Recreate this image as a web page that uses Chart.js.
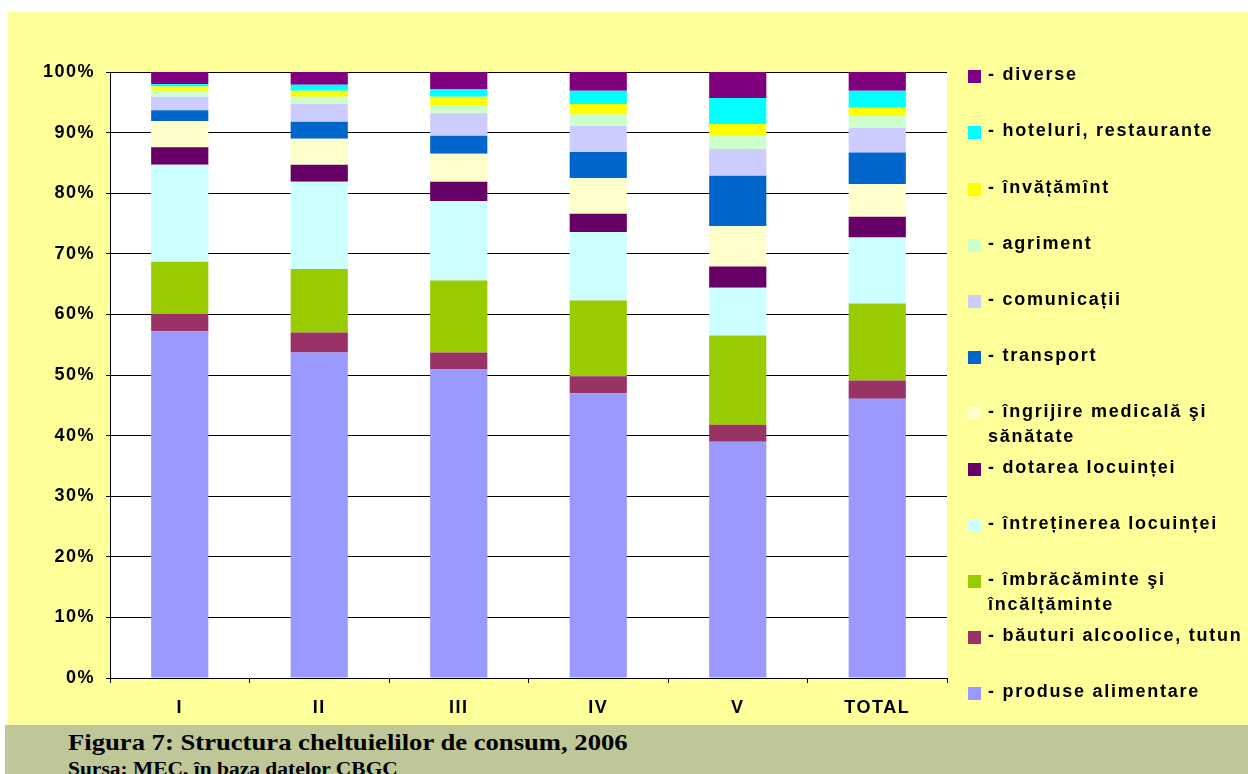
<!DOCTYPE html>
<html><head><meta charset="utf-8">
<script src="https://cdn.jsdelivr.net/npm/chart.js@4.4.1/dist/chart.umd.min.js"></script>
<style>
html,body{margin:0;padding:0;width:1248px;height:774px;overflow:hidden;background:#fff;}
#bg{position:absolute;left:8px;top:12px;width:1240px;height:713px;background:#FFFF99;}
#cap{position:absolute;left:5px;top:725px;width:1243px;height:49px;background:#BFC799;overflow:hidden;}
#cap .t1{position:absolute;left:63px;top:5px;font:bold 24px 'Liberation Serif';line-height:24px;white-space:nowrap;color:#000;transform:scaleX(1.11);transform-origin:0 0;}
#cap .t2{position:absolute;left:63px;top:35px;font:bold 18.5px 'Liberation Serif';line-height:18.5px;white-space:nowrap;color:#000;transform:scaleX(1.16);transform-origin:0 0;}
#c{position:absolute;left:0;top:0;}
.item{position:absolute;left:968px;font:bold 18px 'Liberation Sans';letter-spacing:1.75px;line-height:25px;color:#000;white-space:pre;}
.item .sw{position:absolute;left:0;top:8px;width:13px;height:13px;}
.item .tx{position:absolute;left:20px;top:0;}
</style>
</head><body>
<div id="bg"></div>
<canvas id="c" width="1248" height="774"></canvas>
<div id="legend"></div>
<div id="cap"><div class="t1">Figura 7: Structura cheltuielilor de consum, 2006</div><div class="t2">Sursa: MEC, în baza datelor CBGC</div></div>
<script>
const categories = ['I', 'II', 'III', 'IV', 'V', 'TOTAL'];
const produseAlimentare   = [57.2, 53.7, 50.9, 47.0, 39.0, 46.1];
const bauturiAlcoolice    = [2.9, 3.3, 2.8, 2.8, 2.8, 3.0];
const imbracaminte        = [8.6, 10.5, 11.9, 12.5, 14.7, 12.7];
const intretinerea        = [16.0, 14.4, 13.1, 11.3, 7.9, 10.9];
const dotarea             = [2.9, 2.8, 3.2, 3.0, 3.5, 3.4];
const ingrijire           = [4.3, 4.3, 4.6, 5.9, 6.7, 5.4];
const transport           = [1.8, 2.8, 3.0, 4.3, 8.3, 5.2];
const comunicatii         = [2.2, 2.9, 3.7, 4.3, 4.4, 4.1];
const agriment            = [1.0, 1.2, 1.2, 1.9, 2.2, 1.9];
const invatamint          = [0.7, 1.0, 1.5, 1.7, 1.9, 1.4];
const hoteluri            = [0.4, 1.0, 1.3, 2.2, 4.3, 2.8];
const diverse             = [2.0, 2.1, 2.8, 3.1, 4.3, 3.1];

const seriesValues = [produseAlimentare, bauturiAlcoolice, imbracaminte, intretinerea, dotarea, ingrijire, transport, comunicatii, agriment, invatamint, hoteluri, diverse];
const seriesNames = ['produse alimentare', 'băuturi alcoolice, tutun', 'îmbrăcăminte şi\nîncălțăminte', 'întreținerea locuinței', 'dotarea locuinței', 'îngrijire medicală şi\nsănătate', 'transport', 'comunicații', 'agriment', 'învățămînt', 'hoteluri, restaurante', 'diverse'];
const seriesColors = ['#9999FF', '#993366', '#99CC00', '#CCFFFF', '#660066', '#FFFFCC', '#0066CC', '#CCCCFF', '#CCFFCC', '#FFFF00', '#00FFFF', '#800080'];
const yTickStep = 10;

const datasets = seriesValues.map((vals, i) => ({
  label: seriesNames[i],
  data: vals,
  backgroundColor: seriesColors[i],
  borderWidth: 0,
  barPercentage: 0.41,
  categoryPercentage: 1.0
}));

const spacing = {
  id: 'spacing',
  beforeUpdate(chart) { chart.ctx.letterSpacing = '1.5px'; },
  beforeLayout(chart) { chart.ctx.letterSpacing = '1.5px'; },
  beforeDraw(chart) {
    const a = chart.chartArea, ctx = chart.ctx;
    ctx.letterSpacing = '1.5px';
    ctx.save();
    ctx.fillStyle = '#FFFFFF';
    ctx.fillRect(a.left, a.top, a.right - a.left, a.bottom - a.top);
    ctx.restore();
  }
};

const canvas = document.getElementById('c');
canvas.getContext('2d').letterSpacing = '1.5px';

const chart = new Chart(canvas, {
  type: 'bar',
  data: { labels: categories, datasets },
  plugins: [spacing],
  options: {
    responsive: false,
    animation: false,
    layout: { padding: { left: 0, top: 72, right: 301, bottom: 0 } },
    plugins: { legend: { display: false }, tooltip: { enabled: false }, title: { display: false } },
    scales: {
      x: {
        stacked: true,
        grid: { offset: true, drawOnChartArea: false, tickLength: 5, color: '#000' },
        border: { color: '#000', width: 1 },
        ticks: { font: { family: 'Liberation Sans', size: 18, weight: 'bold' }, color: '#000', padding: 14, maxRotation: 0 },
        afterFit(s) { s.height = 96; }
      },
      y: {
        stacked: true, min: 0, max: 100,
        ticks: { stepSize: yTickStep, callback: v => v + '%', font: { family: 'Liberation Sans', size: 18, weight: 'bold' }, color: '#000', padding: 11 },
        grid: { color: '#000', tickLength: 4 },
        border: { color: '#000', width: 1 },
        afterFit(s) { s.width = 110; }
      }
    }
  }
});

// HTML legend built from the chart's datasets (top series first)
const legend = document.getElementById('legend');
const ds = chart.data.datasets.slice().reverse();
ds.forEach((d, i) => {
  const item = document.createElement('div');
  item.className = 'item';
  item.style.top = (62.3 + i * 56.1) + 'px';
  const sw = document.createElement('div');
  sw.className = 'sw';
  sw.style.background = d.backgroundColor;
  const tx = document.createElement('div');
  tx.className = 'tx';
  tx.textContent = '- ' + d.label;
  item.appendChild(sw); item.appendChild(tx);
  legend.appendChild(item);
});
</script>
</body></html>
